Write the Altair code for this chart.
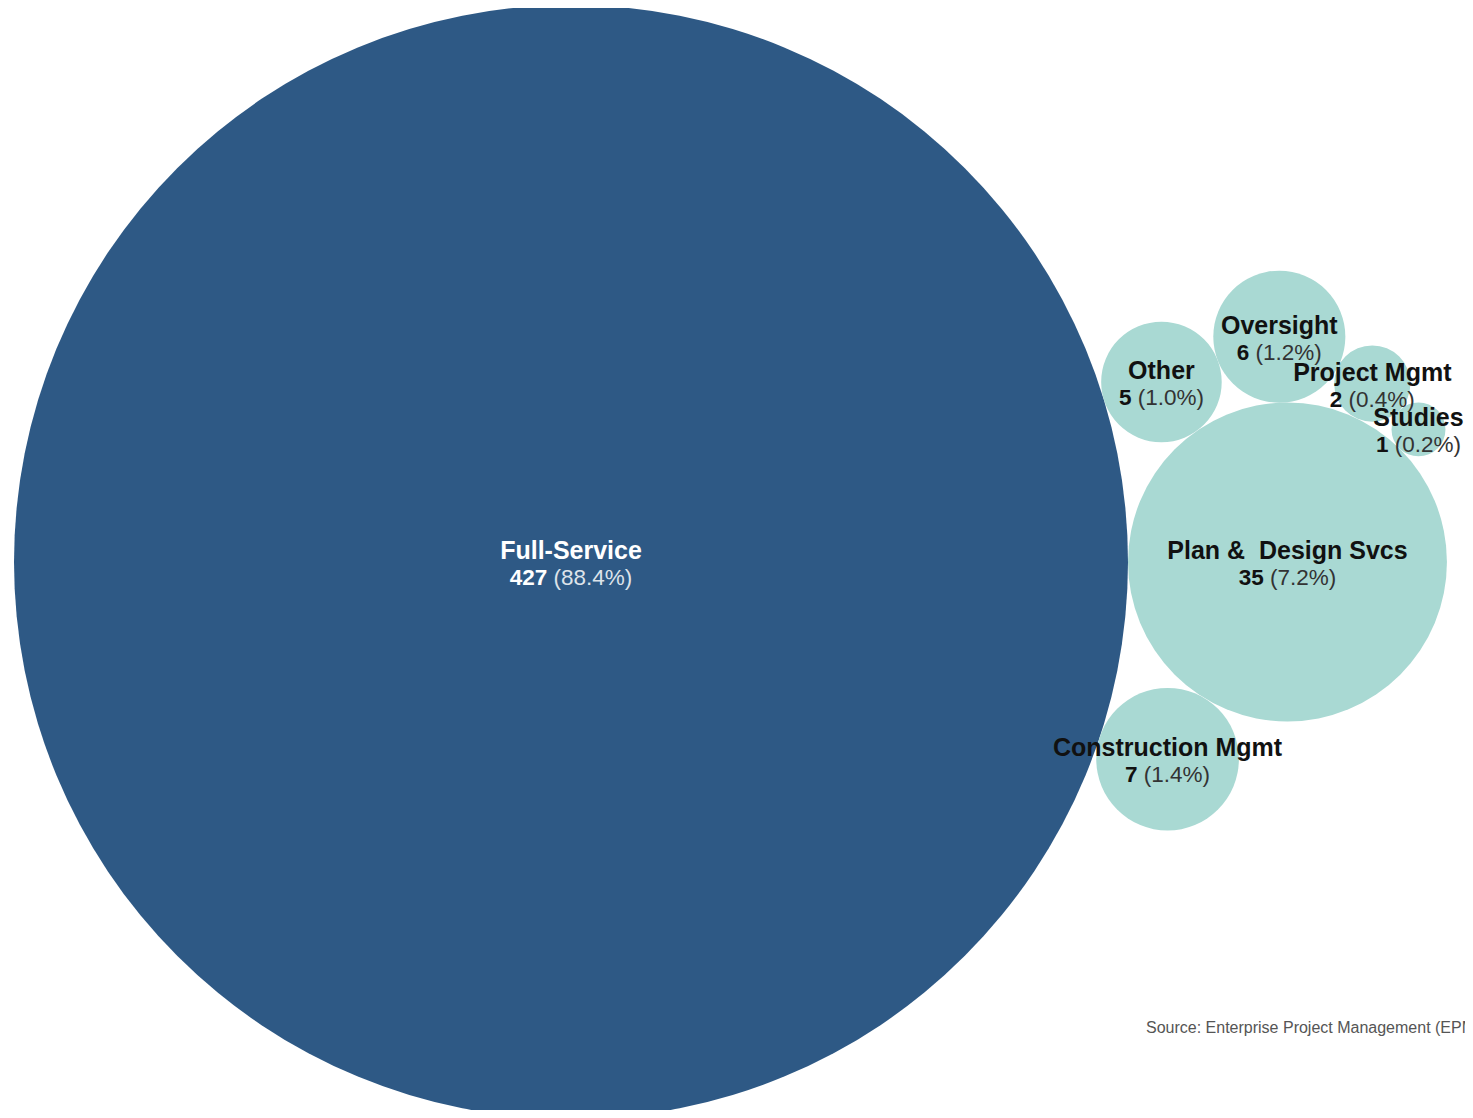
import math
import altair as alt
import pandas as pd
import numpy as np

# ---- data ----
categories = ["Full-Service", "Plan &\u00a0 Design Svcs", "Construction Mgmt", "Other",
              "Oversight", "Project Mgmt", "Studies"]
values = [427, 35, 7, 5, 6, 2, 1]
source_text = "Source: Enterprise Project Management (EPM)"

# ---- packing layout (circles tangent, radius ~ sqrt(value)) ----
rad = {c: math.sqrt(v) for c, v in zip(categories, values)}
pos = {}


def tangent(a, b, r, pick):
    pa, pb = np.array(pos[a]), np.array(pos[b])
    da, db = rad[a] + r, rad[b] + r
    d = np.linalg.norm(pb - pa)
    u = (pb - pa) / d
    perp = np.array([-u[1], u[0]])
    x = (da ** 2 - db ** 2 + d ** 2) / (2 * d)
    h = math.sqrt(max(da ** 2 - x ** 2, 0))
    cands = [pa + x * u + h * perp, pa + x * u - h * perp]
    return tuple(pick(cands))


F, P, C, O, OV, PM, ST = categories
pos[F] = (0.0, 0.0)
pos[P] = (rad[F] + rad[P], 0.0)
pos[O] = tangent(F, P, rad[O], lambda cs: min(cs, key=lambda p: p[1]))
pos[C] = tangent(F, P, rad[C], lambda cs: max(cs, key=lambda p: p[1]))
pos[OV] = tangent(O, P, rad[OV], lambda cs: max(cs, key=lambda p: p[0]))
pos[PM] = tangent(OV, P, rad[PM], lambda cs: max(cs, key=lambda p: p[0]))
pos[ST] = tangent(PM, P, rad[ST], lambda cs: max(cs, key=lambda p: p[0]))

# ---- chart geometry ----
W, H = 1457, 1102
k = 26.955                      # pixels per sqrt-unit of radius
cx0, cy0 = 563.0, 554.0         # pixel position of the largest circle
xdom = [-cx0 / k, (W - cx0) / k]
ydom = [-cy0 / k, (H - cy0) / k]
max_size = (2 * k) ** 2 * max(values)

total = sum(values)
FS1, FS2 = 25, 22.5
cw = {"0": .556, "1": .556, "2": .556, "3": .556, "4": .556, "5": .556, "6": .556,
      "7": .556, "8": .556, "9": .556, "(": .333, ")": .333, ".": .278, "%": .889, " ": .278}


def tw(s, fs):
    return sum(cw.get(ch, .556) for ch in s) * fs


rows = []
for c, v in zip(categories, values):
    num = str(v)
    pct = "({:.1f}%)".format(100 * v / total)
    wn, ws, wp = tw(num, FS2), tw(" ", FS2), tw(pct, FS2)
    T = wn + ws + wp
    x, y = pos[c]
    rows.append(dict(category=c, value=v, x=x, y=y, num=num, pct=pct,
                     x_num=x - (T / 2) / k, x_pct=x + (-T / 2 + wn + ws) / k,
                     dark=(c == F)))
df = pd.DataFrame(rows)

xs = alt.Scale(domain=xdom, nice=False, zero=False)
ys = alt.Scale(domain=ydom, nice=False, zero=False, reverse=True)
X = alt.X("x:Q", scale=xs, axis=None)
Y = alt.Y("y:Q", scale=ys, axis=None)

base = alt.Chart(df)

circles = base.mark_circle(opacity=1).encode(
    x=X, y=Y,
    size=alt.Size("value:Q", scale=alt.Scale(domain=[0, max(values)], range=[0, max_size], zero=True),
                  legend=None),
    color=alt.condition("datum.dark", alt.value("#2E5985"), alt.value("#A9D9D3")),
)

font = "Liberation Sans"
title = base.mark_text(font=font, fontSize=FS1, fontWeight="bold", baseline="middle",
                       align="center", dy=-11).encode(
    x=X, y=Y, text="category:N",
    color=alt.condition("datum.dark", alt.value("#FFFFFF"), alt.value("#111111")),
)
numt = base.mark_text(font=font, fontSize=FS2, fontWeight="bold", baseline="middle",
                      align="left", dy=16).encode(
    x=alt.X("x_num:Q", scale=xs, axis=None), y=Y, text="num:N",
    color=alt.condition("datum.dark", alt.value("#FFFFFF"), alt.value("#111111")),
)
pctt = base.mark_text(font=font, fontSize=FS2, fontWeight="normal", baseline="middle",
                      align="left", dy=16).encode(
    x=alt.X("x_pct:Q", scale=xs, axis=None), y=Y, text="pct:N",
    color=alt.condition("datum.dark", alt.value("#DDE3EA"), alt.value("#333333")),
)

src = alt.Chart(pd.DataFrame({"t": [source_text]})).mark_text(
    font=font, fontSize=16, color="#555555", align="left", baseline="middle"
).encode(x=alt.value(1138), y=alt.value(1020), text="t:N")

chart = alt.layer(circles, title, numt, pctt, src).properties(
    width=W, height=H, padding=0,
    autosize=alt.AutoSizeParams(type="none"),
).configure_view(stroke=None)

chart.save("out.html", embed_options={"renderer": "svg", "actions": False})
